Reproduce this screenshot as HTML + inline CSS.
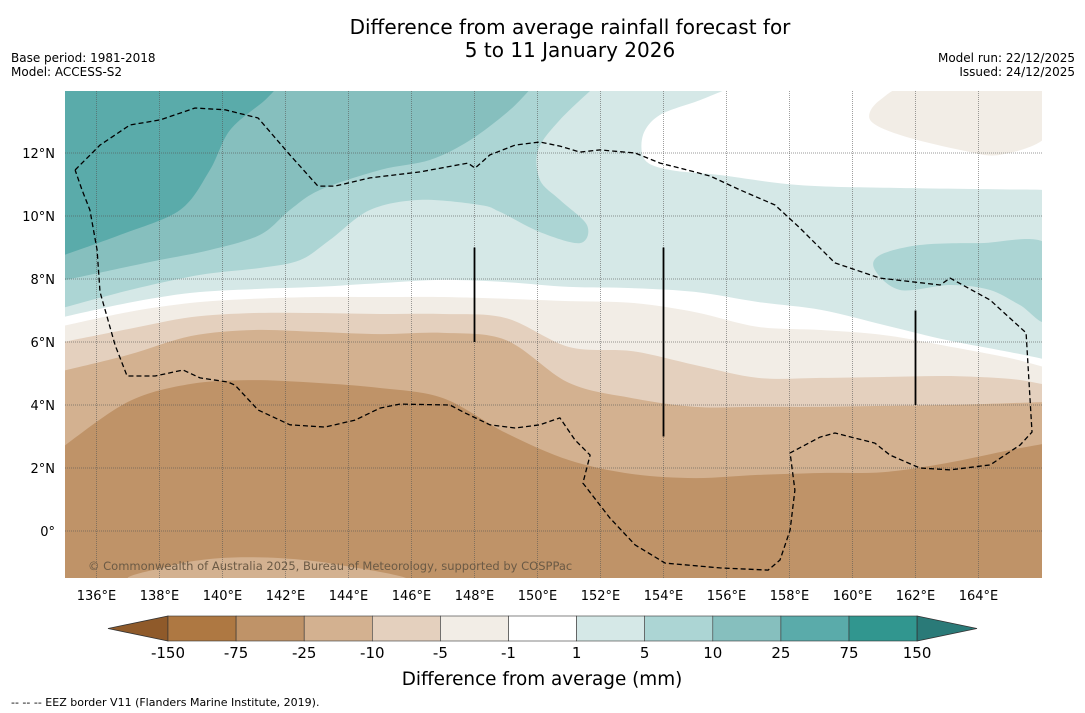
<!DOCTYPE html>
<html><head><meta charset="utf-8"><style>
body{margin:0;background:#fff;width:1085px;height:713px;overflow:hidden;font-family:"DejaVu Sans","Liberation Sans",sans-serif;}
svg{display:block}
</style></head><body>
<svg id="chart" width="1085" height="713" xmlns="http://www.w3.org/2000/svg">
<text x="570" y="34" font-size="20" text-anchor="middle">Difference from average rainfall forecast for</text>
<text x="570" y="57" font-size="20" text-anchor="middle">5 to 11 January 2026</text>
<text x="11" y="62" font-size="12">Base period: 1981-2018</text>
<text x="11" y="76" font-size="12">Model: ACCESS-S2</text>
<text x="1075" y="62" font-size="12" text-anchor="end">Model run: 22/12/2025</text>
<text x="1075" y="76" font-size="12" text-anchor="end">Issued: 24/12/2025</text>
<defs><clipPath id="mapclip"><rect x="65" y="91" width="977" height="487"/></clipPath></defs>
<g id="map" clip-path="url(#mapclip)"></g>
<g id="axes"></g>
<g id="cbar"></g>
<text x="88" y="570" font-size="11.5" fill="#6b5a45">© Commonwealth of Australia 2025, Bureau of Meteorology, supported by COSPPac</text>
<text x="542" y="685" font-size="18.4" text-anchor="middle">Difference from average (mm)</text>
<text x="11" y="706" font-size="11">--  --  -- EEZ border V11 (Flanders Marine Institute, 2019).</text>
</svg>
<script>
const lonTicks=[136,138,140,142,144,146,148,150,152,154,156,158,160,162,164];
const latTicks=[0,2,4,6,8,10,12];
const levelLabels=["-150","-75","-25","-10","-5","-1","1","5","10","25","75","150"];
const levelColors=["#ae7842","#bf9368","#d3b190","#e4d0be","#f2ede6","#ffffff","#d5e8e7","#acd5d4","#86bfbe","#5aabaa","#31968f"];
const gridLons=[135,137,139,141,143,145,147,149,151,153,155,157,159,161,163,165,166];
const latM25=[2.57,4.10,4.67,4.79,4.70,4.54,4.22,3.11,2.25,1.81,1.68,1.78,1.84,1.87,2.16,2.57,2.79];
const latM10=[5.05,5.59,6.19,6.38,6.32,6.25,6.29,6.06,4.70,4.22,3.94,3.94,3.94,3.97,4.0,4.06,4.10];
const latM5=[5.97,6.41,6.79,6.92,6.92,6.89,6.89,6.76,5.84,5.71,5.27,4.86,4.86,4.89,4.92,4.83,4.63];
const latM1=[6.48,6.95,7.24,7.37,7.43,7.43,7.43,7.37,7.30,7.24,6.95,6.48,6.38,6.22,5.87,5.49,5.17];
const latP1=[6.76,7.24,7.56,7.68,7.75,7.87,7.97,7.90,7.75,7.71,7.59,7.27,7.02,6.54,6.06,5.68,5.43];
const c5=[[134.8,7.05],[137.06,7.65],[139.29,8.13],[141.19,8.35],[142.46,8.6],[143.41,9.24],[144.68,10.19],[146.27,10.51],[148.17,10.35],[148.81,10.13],[150.08,9.49],[151.35,9.14],[151.57,9.71],[150.71,10.51],[150.08,11.14],[150.02,12.1],[150.71,13.05],[151.92,14.2]];
const c10=[[134.8,7.92],[137.7,8.54],[139.6,8.92],[141.19,9.4],[142.14,10.19],[143.1,10.83],[145,11.46],[146.59,11.78],[147.86,12.41],[149.13,13.37],[149.92,14.2]];
const c25=[[134.8,8.7],[136.75,9.4],[138.65,10.19],[139.6,11.46],[140.24,12.73],[141.35,13.68],[141.83,14.2]];
const whiteTop=[[156.43,14.2],[155.16,13.68],[153.89,13.21],[153.35,12.57],[153.41,11.78],[154.21,11.46],[155.79,11.3],[158.33,10.98],[161.51,10.89],[166.2,10.83]];
const brownTop=[[160.56,13.05],[160.87,13.68],[162.14,14.2],[166.2,14.2],[166.2,12.57],[164.68,11.94],[163.41,12.1],[161.51,12.57]];
const tealBlob=[[160.71,8.29],[160.87,8.76],[162.14,9.08],[164.05,9.14],[166.2,9.08],[166.2,6.7],[165.32,7.17],[164.37,7.65],[163.1,7.81],[161.51,7.65]];
const southPatch=[[137.38,-1.6],[138.33,-1.11],[139.92,-0.86],[141.83,-0.86],[143.73,-1.08],[145.63,-1.6]];
const eez=[[135.32,11.46],[136.11,12.25],[137.06,12.89],[138.02,13.05],[139.13,13.43],[140.08,13.37],[141.13,13.11],[142.14,11.94],[143.03,10.95],[143.57,10.95],[144.68,11.21],[146.27,11.4],[147.79,11.68],[148.02,11.52],[148.49,11.94],[149.29,12.25],[150.08,12.35],[150.71,12.22],[151.35,12.03],[151.98,12.1],[153.1,12.0],[153.89,11.68],[154.52,11.52],[155.48,11.27],[156.43,10.83],[157.54,10.35],[158.33,9.62],[159.44,8.51],[160.87,8.03],[162.78,7.81],[163.1,8.03],[164.37,7.33],[165.51,6.29],[165.6,4.79],[165.7,3.14],[165.32,2.73],[164.37,2.1],[163.1,1.94],[162.14,2.0],[161.19,2.41],[160.71,2.79],[159.44,3.11],[158.97,2.98],[158.02,2.48],[158.17,1.3],[158.02,0.03],[157.7,-0.92],[157.32,-1.24],[155.79,-1.17],[154.05,-1.02],[153.1,-0.44],[152.3,0.41],[151.44,1.52],[151.67,2.41],[151.19,2.89],[150.71,3.59],[150.08,3.37],[149.29,3.27],[148.49,3.37],[147.7,3.75],[147.22,4.0],[145.63,4.03],[145,3.9],[144.21,3.52],[143.25,3.3],[142.14,3.37],[141.13,3.84],[140.4,4.63],[140.17,4.73],[139.29,4.86],[138.75,5.11],[137.86,4.92],[136.97,4.92],[136.59,5.9],[136.11,7.59],[136.02,8.92],[135.79,10.19],[135.54,10.83],[135.32,11.46]];
const barLons=[148,154,162];
const barTop=[9,9,7];
const barBottom=[6,3,4];

const NS='http://www.w3.org/2000/svg';
const X=lon=>65+(lon-135)*31.5;
const Y=lat=>531-lat*31.5;
function mk(tag,attrs,parent){const e=document.createElementNS(NS,tag);for(const k in attrs)e.setAttribute(k,attrs[k]);parent.appendChild(e);return e;}
const map=document.getElementById('map');
const axes=document.getElementById('axes');
const cbar=document.getElementById('cbar');
function ptsStr(p){return p.map(q=>X(q[0]).toFixed(1)+','+Y(q[1]).toFixed(1)).join(' ');}
function smoothPath(p,closed){
  const P=p.map(q=>[X(q[0]),Y(q[1])]);const n=P.length;
  let d='M'+P[0][0].toFixed(1)+','+P[0][1].toFixed(1);
  const last=closed?n:n-1;
  for(let i=0;i<last;i++){
    const p0=P[closed?(i-1+n)%n:Math.max(i-1,0)],p1=P[i],p2=P[(i+1)%n],p3=P[closed?(i+2)%n:Math.min(i+2,n-1)];
    const t=0.16;
    const c1=[p1[0]+(p2[0]-p0[0])*t,p1[1]+(p2[1]-p0[1])*t];
    const c2=[p2[0]-(p3[0]-p1[0])*t,p2[1]-(p3[1]-p1[1])*t];
    d+=` C${c1[0].toFixed(1)},${c1[1].toFixed(1)} ${c2[0].toFixed(1)},${c2[1].toFixed(1)} ${p2[0].toFixed(1)},${p2[1].toFixed(1)}`;
  }
  return d+(closed?'Z':'');
}
function corner(lon,lat){return ` L${X(lon).toFixed(1)},${Y(lat).toFixed(1)}`;}
let bg=mk('rect',{x:60,y:86,width:990,height:500,fill:levelColors[1]},map);


const bands=[[latM25,2,'band-minus25-to-minus10'],[latM10,3,'band-minus10-to-minus5'],[latM5,4,'band-minus5-to-minus1'],[latM1,5,'band-minus1-to-1'],[latP1,6,'band-1-to-5']];
bands.forEach(b=>{
  const p=gridLons.map((l,i)=>[l,b[0][i]]);
  p[p.length-1][0]=166.2;p[0][0]=134.8;
  const d=smoothPath(p,false)+corner(166.2,14.5)+corner(134.8,14.5)+'Z';
  const e=mk('path',{d:d,fill:levelColors[b[1]]},map);
  
  
});
// west-anchored wet bands: close via north-west corner
[[c5,7,'band-5-to-10'],[c10,8,'band-10-to-25'],[c25,9,'band-25-to-75']].forEach(b=>{
  const d=smoothPath(b[0],false)+corner(b[0][b[0].length-1][0],14.5)+corner(134.8,14.5)+'Z';
  const e=mk('path',{d:d,fill:levelColors[b[1]]},map);
  
  
});
{
  const d=smoothPath(whiteTop,false)+corner(166.2,14.5)+corner(156.43,14.5)+'Z';
  const e=mk('path',{d:d,fill:levelColors[5]},map);
  
  
}
[[brownTop,4,'band-top-dry-patch'],[tealBlob,7,'band-east-wet-patch'],[southPatch,2,'band-south-dry-patch']].forEach(b=>{
  const e=mk('path',{d:smoothPath(b[0],true),fill:levelColors[b[1]]},map);
  
  
});
lonTicks.forEach(l=>{
  const g=mk('line',{x1:X(l),x2:X(l),y1:91,y2:578,stroke:'#555','stroke-width':0.7,'stroke-dasharray':'1,1','stroke-opacity':0.8},map);
  
  
  const t=mk('text',{x:X(l),y:600,'font-size':13,'text-anchor':'middle'},axes);
  t.textContent=l+'°E';
  
  
});
latTicks.forEach(l=>{
  const g=mk('line',{x1:65,x2:1042,y1:Y(l),y2:Y(l),stroke:'#555','stroke-width':0.7,'stroke-dasharray':'1,1','stroke-opacity':0.8},map);
  
  
  const t=mk('text',{x:55,y:Y(l)+5,'font-size':13,'text-anchor':'end'},axes);
  t.textContent=l===0?'0°':l+'°N';
  
  
});
const ez=mk('polyline',{points:ptsStr(eez),fill:'none',stroke:'#000','stroke-width':1.3,'stroke-dasharray':'5,3','stroke-linejoin':'round'},map);


barLons.forEach((l,i)=>{
  const e=mk('line',{x1:X(l),x2:X(l),y1:Y(barTop[i]),y2:Y(barBottom[i]),stroke:'#000','stroke-width':1.8},map);
  
  
});
const cx0=168,cw=68.1,cy=616,ch=25;
const lt=mk('polygon',{points:`108,${cy+ch/2} ${cx0},${cy} ${cx0},${cy+ch}`,fill:'#8f5a2a',stroke:'#333','stroke-width':0.8},cbar);


levelColors.forEach((c,i)=>{
  const r=mk('rect',{x:cx0+i*cw,y:cy,width:cw,height:ch,fill:c,stroke:'#333','stroke-width':0.6},cbar);
  
  
});
const xe=cx0+levelColors.length*cw;
const rt=mk('polygon',{points:`${xe},${cy} 977,${cy+ch/2} ${xe},${cy+ch}`,fill:'#2a7a78',stroke:'#333','stroke-width':0.8},cbar);


levelLabels.forEach((s,i)=>{
  const t=mk('text',{x:cx0+i*cw,y:658,'font-size':15,'text-anchor':'middle'},cbar);
  t.textContent=s;
  
  
});
</script>
</body></html>
